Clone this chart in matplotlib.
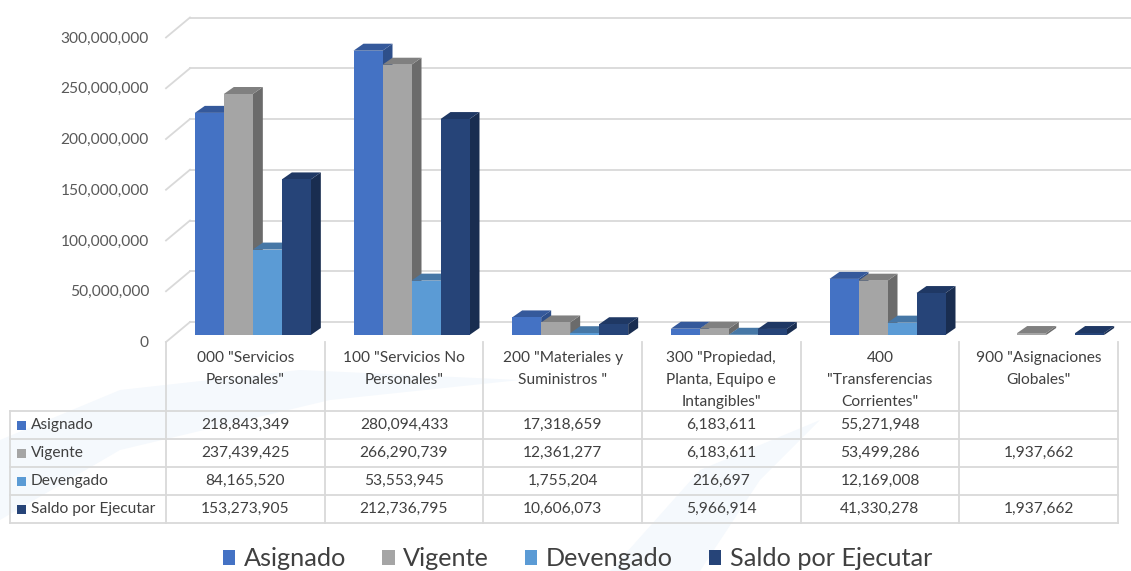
import matplotlib
matplotlib.use("Agg")
import matplotlib.pyplot as plt
from matplotlib.patches import Polygon, Rectangle
from matplotlib.lines import Line2D

# ---------------- data ----------------
categories = ['000 "Servicios\nPersonales"',
              '100 "Servicios No\nPersonales"',
              '200 "Materiales y\nSuministros "',
              '300 "Propiedad,\nPlanta, Equipo e\nIntangibles"',
              '400\n"Transferencias\nCorrientes"',
              '900 "Asignaciones\nGlobales"']
series_names = ["Asignado", "Vigente", "Devengado", "Saldo por Ejecutar"]
asignado = [218843349, 280094433, 17318659, 6183611, 55271948, None]
vigente = [237439425, 266290739, 12361277, 6183611, 53499286, 1937662]
devengado = [84165520, 53553945, 1755204, 216697, 12169008, None]
saldo = [153273905, 212736795, 10606073, 5966914, 41330278, 1937662]
series_values = [asignado, vigente, devengado, saldo]
y_ticks = [0, 50000000, 100000000, 150000000, 200000000, 250000000, 300000000]

front_colors = ["#4472C4", "#A5A5A5", "#5B9BD5", "#264478"]
top_colors = ["#35599B", "#808080", "#4677A6", "#1F3864"]
side_colors = ["#2E4F8A", "#6B6B6B", "#3E6B94", "#192D50"]

FONT = "Lato"
plt.rcParams["font.family"] = [FONT, "DejaVu Sans"]
FS = 11.2

W, H = 1131, 571
fig = plt.figure(figsize=(W / 100, H / 100), dpi=100)
fig.patch.set_facecolor("white")

# layout (pixels)
L, R = 166, 1118
Y0, YTOP = 335, 30.5           # bar plane: value 0 and value 300M
YMAX = 300e6
ncat = len(categories)
cat_px = (R - L) / ncat
ypx_per = (Y0 - YTOP) / YMAX

def ypix(v):
    return Y0 - v * ypx_per

# overlay axes in pixel coordinates for decorations / table
ov = fig.add_axes([0, 0, 1, 1], zorder=0)
ov.set_xlim(0, W)
ov.set_ylim(H, 0)
ov.axis("off")

# faint background watermark swoosh
ov.add_patch(Polygon([(0, 440), (120, 390), (300, 370), (520, 380), (330, 400), (120, 450), (0, 520)],
                     closed=True, facecolor="#F5F9FD", edgecolor="none", zorder=0))
ov.add_patch(Polygon([(610, 571), (700, 470), (820, 420), (760, 480), (700, 571)],
                     closed=True, facecolor="#F5F9FD", edgecolor="none", zorder=0))

# main bar axes
ax = fig.add_axes([L / W, (H - Y0) / H, (R - L) / W, (Y0 - YTOP) / H], zorder=2)
ax.set_xlim(-0.5, ncat - 0.5)
ax.set_ylim(0, YMAX)
ax.axis("off")
ax.patch.set_alpha(0)

grid_c = "#D9D9D9"
# back wall gridlines + diagonal connectors + labels
for v in y_ticks:
    yb = ypix(v) - 13
    ov.add_line(Line2D([L + 24, W], [yb, yb], color=grid_c, lw=1.3, zorder=1))
    ov.add_line(Line2D([L, L + 24], [ypix(v) + 7, yb], color=grid_c, lw=1.3, zorder=1))
    ov.text(149, ypix(v) + 8, f"{v:,.0f}", ha="right", va="center",
            fontsize=FS, color="#595959")

# 3D-ish bars
bw = 29 / cat_px
goff = 7.5 / cat_px
dxu = 10 / cat_px
dyu = 7 / ypx_per
z = 3
for i in range(ncat):
    for j, vals in enumerate(series_values):
        v = vals[i]
        if v is None:
            continue
        x0 = i + goff + (j - 2) * bw
        side = Polygon([(x0 + bw, 0), (x0 + bw + dxu, dyu), (x0 + bw + dxu, v + dyu), (x0 + bw, v)],
                       closed=True, facecolor=side_colors[j], edgecolor="none", zorder=z, clip_on=False)
        top = Polygon([(x0, v), (x0 + dxu, v + dyu), (x0 + bw + dxu, v + dyu), (x0 + bw, v)],
                      closed=True, facecolor=top_colors[j], edgecolor="none", zorder=z + 0.1, clip_on=False)
        ax.add_patch(side)
        ax.add_patch(top)
        ax.bar(x0, v, width=bw, align="edge", color=front_colors[j], zorder=z + 0.2,
               linewidth=0, clip_on=False)
        z += 1

# ---------------- data table ----------------
tcol = "#404040"
row_tops = [411, 439, 467, 495, 523]
head_top = 342
col_x = [L + k * cat_px for k in range(ncat + 1)]
lw_t = 1.3
for yy in row_tops:
    ov.add_line(Line2D([10, R], [yy, yy], color=grid_c, lw=lw_t, zorder=1))
for k, xx in enumerate(col_x):
    ov.add_line(Line2D([xx, xx], [head_top, row_tops[-1]], color=grid_c, lw=lw_t, zorder=1))
ov.add_line(Line2D([10, 10], [row_tops[0], row_tops[-1]], color=grid_c, lw=lw_t, zorder=1))

for i, cat in enumerate(categories):
    cx = (col_x[i] + col_x[i + 1]) / 2
    for k, line in enumerate(cat.split("\n")):
        ov.text(cx, 358 + 22 * k, line, ha="center", va="center", fontsize=FS, color=tcol)

for j, (name, vals) in enumerate(zip(series_names, series_values)):
    yc = (row_tops[j] + row_tops[j + 1]) / 2
    ov.add_patch(Rectangle((17, yc - 4.5), 9, 9, facecolor=front_colors[j], edgecolor="none", zorder=2))
    ov.text(31, yc, name, ha="left", va="center", fontsize=FS, color=tcol)
    for i, v in enumerate(vals):
        if v is None:
            continue
        cx = (col_x[i] + col_x[i + 1]) / 2
        ov.text(cx, yc, f"{v:,.0f}", ha="center", va="center", fontsize=FS, color=tcol)

# legend
handles = [Rectangle((0, 0), 1, 1, facecolor=c, edgecolor="none") for c in front_colors]
fig.legend(handles, series_names, loc="center", bbox_to_anchor=(577.5 / W, 1 - 559 / H), ncol=4,
           frameon=False, fontsize=18.2, handlelength=0.5, handleheight=0.5,
           handletextpad=0.35, columnspacing=1.4, labelcolor="#404040")

fig.savefig("out.png", dpi=100, facecolor="white")
